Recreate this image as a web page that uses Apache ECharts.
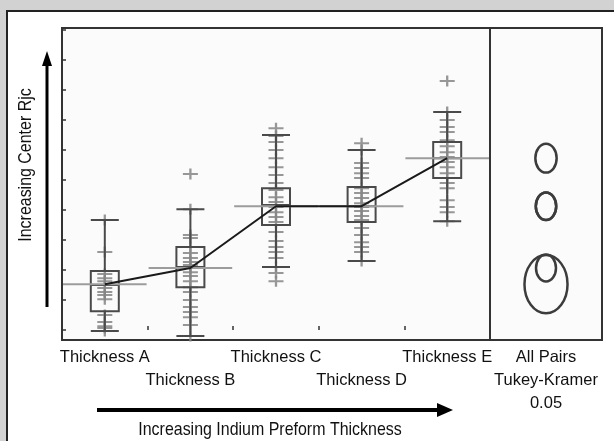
<!DOCTYPE html>
<html>
<head>
<meta charset="utf-8">
<script src="https://cdn.jsdelivr.net/npm/echarts@6/dist/echarts.min.js"></script>
<style>
  html, body { margin: 0; padding: 0; background: #d2d2d2; }
  #panel { position: absolute; left: 6px; top: 10px; width: 620px; height: 440px;
           background: #fff; border: 2px solid #222; box-sizing: border-box; }
  #main { position: absolute; left: 0; top: 0; width: 614px; height: 441px; }
</style>
</head>
<body>
<div id="panel"></div>
<div id="main"></div>
<script>
// groups along the x axis
const categories = ['Thickness A', 'Thickness B', 'Thickness C', 'Thickness D', 'Thickness E'];
const compareLabel = ['All Pairs\nTukey-Kramer\n0.05'];

// box plot stats [min, Q1, median, Q3, max]
const boxStats = [
  [-0.03, 0.63, 1.5, 1.97, 3.67],
  [-0.2, 1.43, 2.1, 2.77, 4.03],
  [2.1, 3.5, 4.17, 4.73, 6.5],
  [2.3, 3.6, 4.13, 4.77, 6.0],
  [3.63, 5.07, 5.73, 6.27, 7.27]
];

// group means
const groupMeans = [1.53, 2.07, 4.13, 4.13, 5.73];

// comparison circle radii (same units as y)
const circleRadii = [0.97, 0.45, 0.46, 0.46, 0.48];

// individual observations
const pointsA = [3.67, 2.6, 1.87, 1.73, 1.63, 1.4, 1.27, 1.17, 1.03, 0.5, 0.27, 0.13, 0.07, -0.03];
const pointsB = [5.2, 4.03, 3.17, 3.07, 2.77, 2.57, 2.4, 2.27, 2.17, 2.07, 1.93, 1.8, 1.63, 1.43,
                 1.27, 1.0, 0.77, 0.6, 0.43, 0.17, -0.2];
const pointsC = [6.73, 6.47, 6.27, 6.0, 5.73, 5.43, 5.17, 4.9, 4.67, 4.43, 4.27, 4.1, 3.93, 3.77,
                 3.6, 3.27, 2.97, 2.77, 2.6, 2.4, 2.1, 1.9, 1.63];
const pointsD = [6.23, 6.0, 5.57, 5.4, 5.23, 5.07, 4.73, 4.57, 4.4, 4.23, 4.1, 3.97, 3.8, 3.67,
                 3.4, 3.17, 2.93, 2.77, 2.6, 2.3];
const pointsE = [8.3, 7.27, 7.0, 6.77, 6.6, 6.33, 6.13, 5.93, 5.77, 5.6, 5.43, 5.23, 5.07, 4.9,
                 4.73, 4.33, 4.1, 3.93, 3.63];

const allPoints = [pointsA, pointsB, pointsC, pointsD, pointsE];
const FONT = '"Liberation Sans", Arial, sans-serif';

const scatterData = [];
allPoints.forEach((arr, i) => arr.forEach(v => scatterData.push([categories[i], v])));

const myChart = echarts.init(document.getElementById('main'));

const yCommon = {
  type: 'value',
  min: -0.33,
  max: 10.07,
  splitNumber: 10,
  axisLine: { show: false },
  axisLabel: { show: false },
  splitLine: { show: false }
};

const labelStyle = { color: '#111', fontFamily: FONT, fontSize: 16.5, lineHeight: 23, margin: 6 };

const option = {
  animation: false,
  grid: [
    { left: 62, right: 124, top: 28, bottom: 101, show: true,
      borderColor: '#333', borderWidth: 2, backgroundColor: '#fbfbfb' },
    { left: 490, right: 12, top: 28, bottom: 101, show: true,
      borderColor: '#333', borderWidth: 2, backgroundColor: '#fbfbfb' }
  ],
  xAxis: [
    {
      type: 'category', gridIndex: 0, data: categories, boundaryGap: true,
      axisLine: { show: false },
      axisTick: { show: true, inside: true, length: 4, lineStyle: { color: '#333', width: 1.5 } },
      axisLabel: Object.assign({
        interval: 0,
        formatter: (v, i) => (i % 2 ? '\n' + v : v)
      }, labelStyle)
    },
    {
      type: 'category', gridIndex: 1, data: compareLabel,
      axisLine: { show: false }, axisTick: { show: false },
      axisLabel: Object.assign({ align: 'center' }, labelStyle)
    }
  ],
  yAxis: [
    Object.assign({ gridIndex: 0,
      axisTick: { show: true, inside: true, length: 4, lineStyle: { color: '#333', width: 1.5 } } }, yCommon),
    Object.assign({ gridIndex: 1, axisTick: { show: false } }, yCommon)
  ],
  series: [
    {
      type: 'scatter', xAxisIndex: 0, yAxisIndex: 0, z: 2,
      symbol: 'path://M0,4.5H13V6.5H0Z M5.5,0H7.5V11H5.5Z',
      symbolSize: [15, 11],
      itemStyle: { color: '#858585', opacity: 0.85 },
      data: scatterData
    },
    {
      type: 'boxplot', xAxisIndex: 0, yAxisIndex: 0, z: 3,
      boxWidth: [28, 28],
      itemStyle: { color: 'rgba(0,0,0,0)', borderColor: '#4a4a4a', borderWidth: 2 },
      data: boxStats
    },
    {
      type: 'custom', xAxisIndex: 0, yAxisIndex: 0, z: 4,
      renderItem: (params, api) => {
        const c = api.coord([api.value(0), api.value(1)]);
        const w = api.size([1, 0])[0];
        return {
          type: 'line',
          shape: { x1: c[0] - w / 2 + 1, y1: c[1], x2: c[0] + w / 2 - 1, y2: c[1] },
          style: { stroke: '#9c9c9c', lineWidth: 2 }
        };
      },
      data: groupMeans.map((m, i) => [i, m])
    },
    {
      type: 'line', xAxisIndex: 0, yAxisIndex: 0, z: 5,
      symbol: 'none',
      lineStyle: { color: '#1a1a1a', width: 2 },
      data: groupMeans.map((m, i) => [categories[i], m])
    },
    {
      type: 'custom', xAxisIndex: 1, yAxisIndex: 1, z: 5,
      renderItem: (params, api) => {
        const c = api.coord([0, api.value(0)]);
        const ry = api.size([0, api.value(1)])[1];
        return {
          type: 'ellipse',
          shape: { cx: c[0], cy: c[1], rx: ry * 0.74, ry: ry },
          style: { fill: 'none', stroke: '#3c3c3c', lineWidth: 2.5 }
        };
      },
      data: groupMeans.map((m, i) => [m, circleRadii[i]])
    }
  ],
  graphic: [
    {
      type: 'text', x: 26, y: 165, rotation: Math.PI / 2, scaleX: 0.84,
      style: { text: 'Increasing Center Rjc', font: '19px ' + FONT, fill: '#111',
               align: 'center', verticalAlign: 'middle' }
    },
    { type: 'line', shape: { x1: 47, y1: 307, x2: 47, y2: 64 }, style: { stroke: '#000', lineWidth: 3 } },
    { type: 'polygon', shape: { points: [[47, 51], [42, 66], [52, 66]] }, style: { fill: '#000' } },
    {
      type: 'text', x: 270, y: 430, scaleX: 0.84,
      style: { text: 'Increasing Indium Preform Thickness', font: '19px ' + FONT, fill: '#111',
               align: 'center', verticalAlign: 'middle' }
    },
    { type: 'line', shape: { x1: 97, y1: 410, x2: 440, y2: 410 }, style: { stroke: '#000', lineWidth: 4 } },
    { type: 'polygon', shape: { points: [[453, 410], [437, 403], [437, 417]] }, style: { fill: '#000' } }
  ]
};

myChart.setOption(option);
</script>
</body>
</html>
